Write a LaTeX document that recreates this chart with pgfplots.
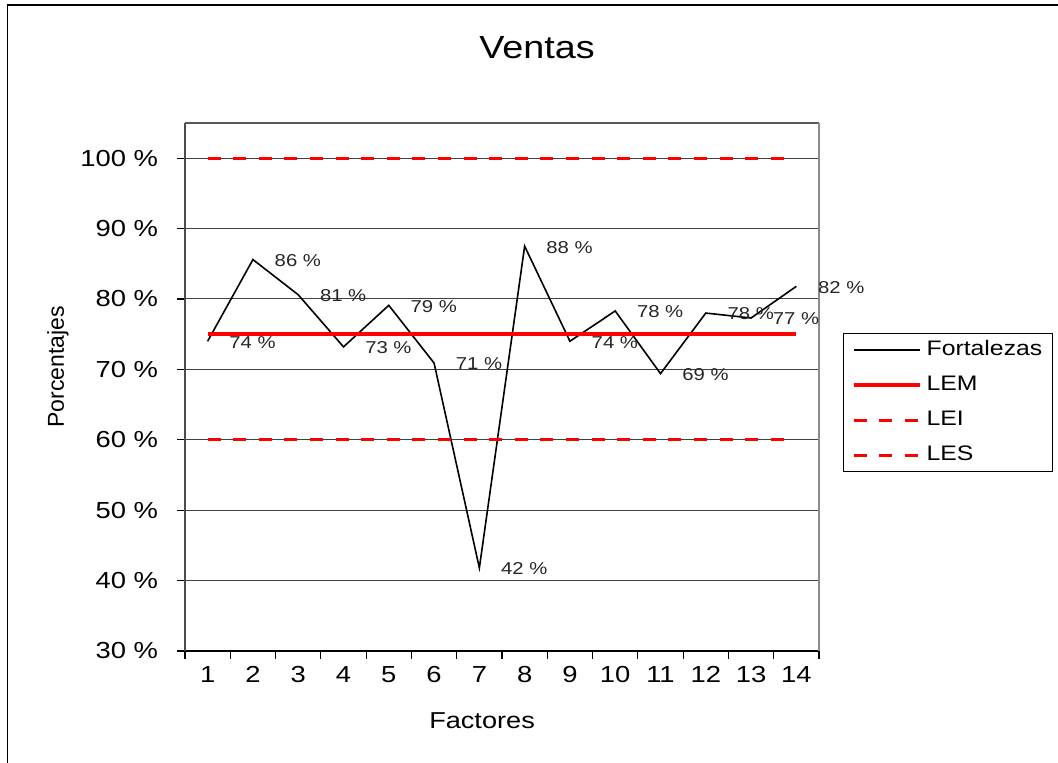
\documentclass[border=0pt]{standalone}
\usepackage{fontspec}
\setmainfont{Liberation Sans}[FakeStretch=1.18]
\newfontfamily\plainfont{Liberation Sans}
\usepackage{pgfplots}
\pgfplotsset{compat=1.18}
\usepackage{pgfplotstable}

\pgfplotstableread{
x y lab
1 74.0 74
2 85.6 86
3 80.6 81
4 73.2 73
5 79.1 79
6 70.9 71
7 41.8 42
8 87.5 88
9 74.0 74
10 78.3 78
11 69.4 69
12 78.0 78
13 77.3 77
14 81.8 82
}\fortalezas

\begin{document}
\begin{tikzpicture}
\path[use as bounding box] (0,0) rectangle (529pt,-381.5pt);
\draw[line width=0.8pt] (3.75pt,-385pt) -- (3.75pt,-2.5pt) -- (535pt,-2.5pt);
\node[font=\fontsize{16}{19}\selectfont] at (268.5pt,-24pt) {Ventas};
\begin{axis}[
  at={(92.5pt,-61.5pt)}, anchor=north west,
  scale only axis, width=317pt, height=264pt,
  xmin=0.5, xmax=14.5, ymin=30, ymax=105,
  clip=false,
  axis x line*=bottom, axis y line*=left,
  x axis line style={black, line width=0.6pt},
  y axis line style={black!70, line width=0.9pt},
  xtick={0.5,1.5,...,14.5},
  x tick label as interval,
  xticklabels={1,2,3,4,5,6,7,8,9,10,11,12,13,14},
  ytick={30,40,...,100},
  yticklabels={30 \%,40 \%,50 \%,60 \%,70 \%,80 \%,90 \%,100 \%},
  tick align=outside, major tick length=4pt,
  tick style={black, line width=0.6pt},
  ymajorgrids, major grid style={black!75, line width=0.5pt},
  /pgf/number format/assume math mode=true,
  ticklabel style={font=\fontsize{11.6}{13}\selectfont},
  yticklabel style={xshift=-6pt},
  xlabel={Factores}, ylabel={Porcentajes},
  xlabel style={font=\fontsize{11.5}{13}\selectfont, at={(axis description cs:0.4685,-0.1326)}, anchor=center},
  ylabel style={font=\plainfont\fontsize{11.5}{13}\selectfont, at={(axis description cs:-0.2003,0.538)}, anchor=center},
  legend style={at={(axis description cs:1.0379,0.6023)}, anchor=north west,
    draw=black, line width=0.6pt, fill=white,
    font=\fontsize{10.5}{12}\selectfont,
    inner xsep=4pt, inner ysep=2.5pt, row sep=6pt,
    nodes={inner sep=1pt, text height=7.5pt, text depth=2pt},
    /tikz/every odd column/.append style={column sep=1.5pt},
    /tikz/every even column/.append style={column sep=0pt}},
  legend cell align=left,
  legend image code/.code={\draw[#1] (0pt,0pt) -- (33pt,0pt);},
]
\addplot[black, line width=0.8pt, mark=none,
  point meta=explicit symbolic,
  nodes near coords={\pgfplotspointmeta~\%},
  nodes near coords style={anchor=west, xshift=10.5pt, yshift=-0.5pt, inner sep=0pt,
    font=\fontsize{8.6}{10}\selectfont, text=black!85}]
  table[x=x, y=y, meta=lab] {\fortalezas};
\addlegendentry{Fortalezas}
\addplot[red, line width=2pt, mark=none] coordinates {(1,75) (14,75)};
\addlegendentry{LEM}
\addplot[red, line width=1.5pt, mark=none, dash pattern=on 6.5pt off 6.3pt] coordinates {(1,60) (14,60)};
\addlegendentry{LEI}
\addplot[red, line width=1.5pt, mark=none, dash pattern=on 6.5pt off 6.3pt] coordinates {(1,100) (14,100)};
\addlegendentry{LES}
\draw[black!65, line width=0.9pt] (rel axis cs:0,1) -- (rel axis cs:1,1);
\draw[black!45, line width=1pt] (rel axis cs:1,1) -- (rel axis cs:1,0);
\end{axis}
\end{tikzpicture}
\end{document}
